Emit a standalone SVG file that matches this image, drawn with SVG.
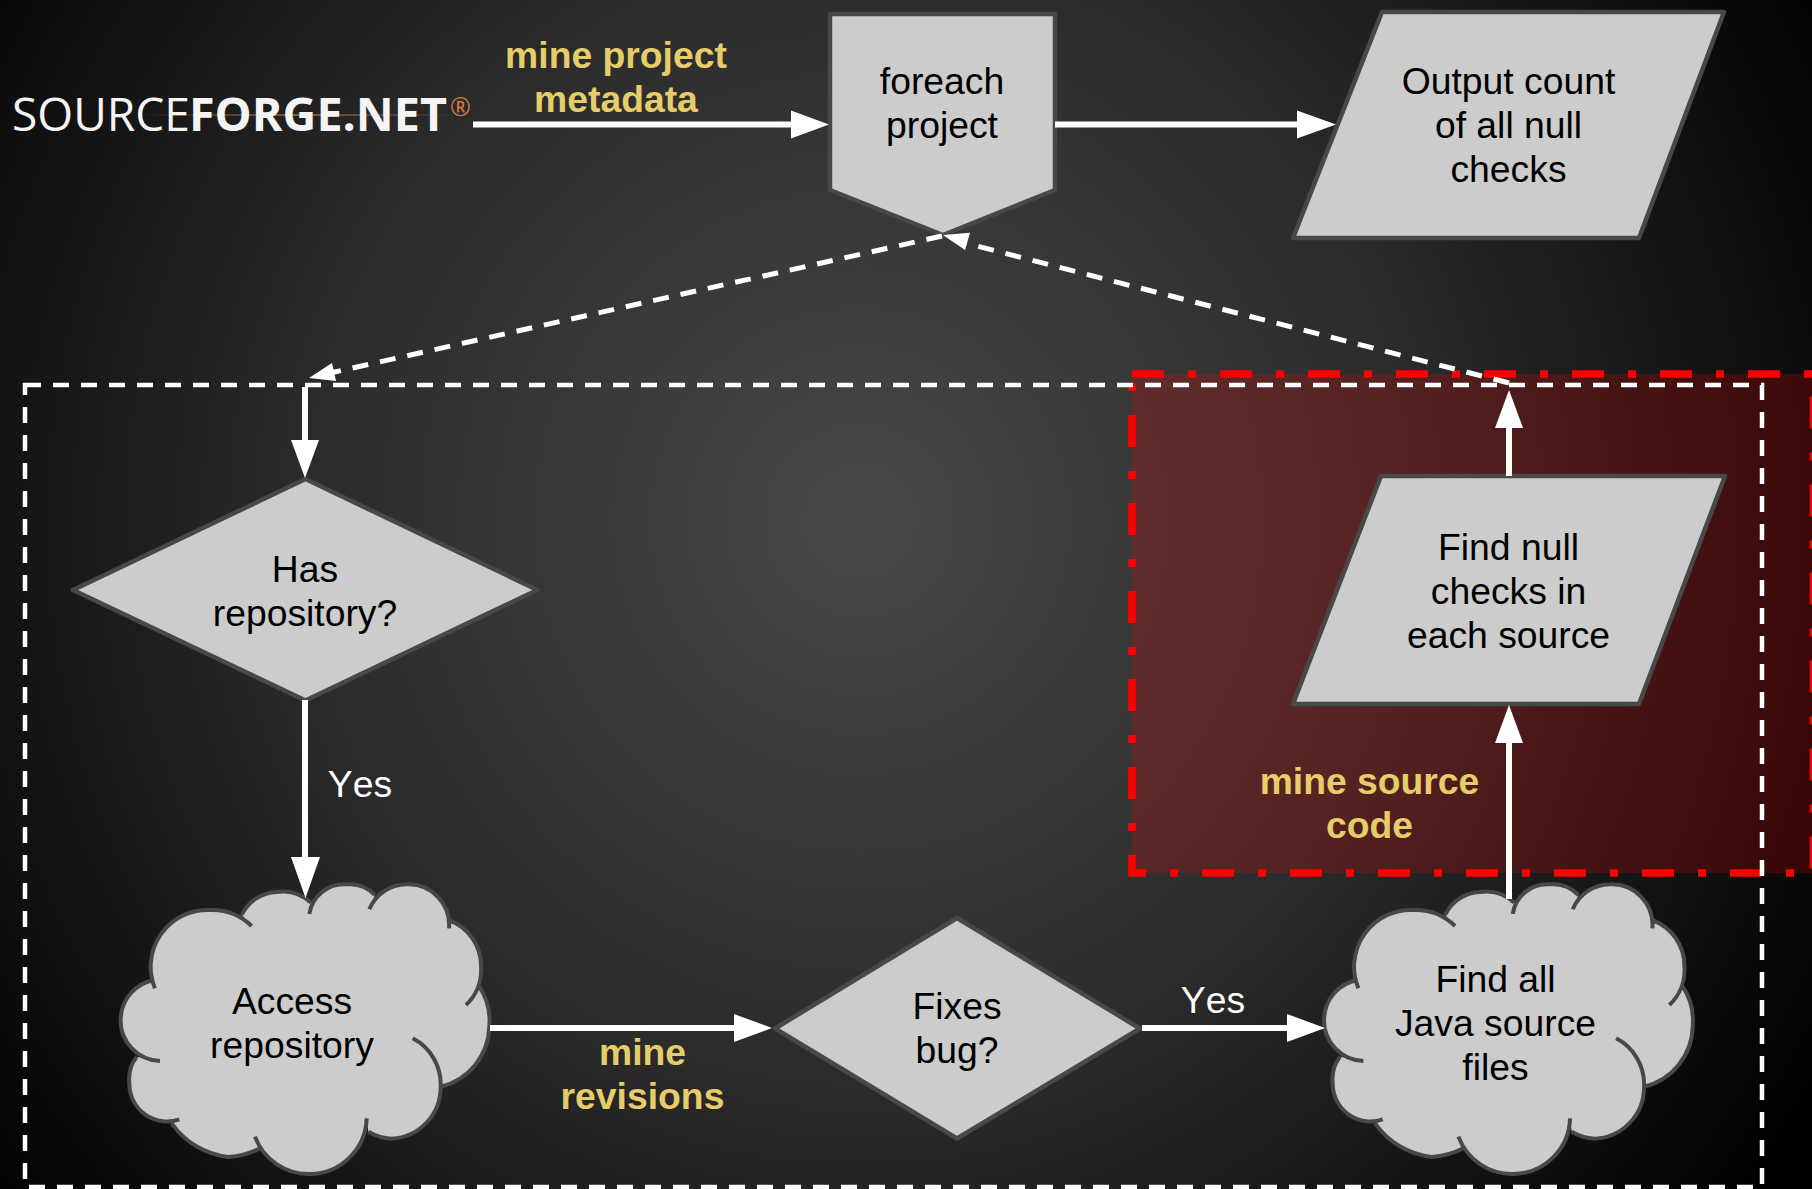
<svg xmlns="http://www.w3.org/2000/svg" width="1812" height="1189" viewBox="0 0 1812 1189">
<style>
.shape{fill:#cccccc;stroke:#484848;stroke-width:4.500;stroke-linejoin:round}
.t{font-family:"Liberation Sans",Arial,sans-serif;font-size:37.3px;text-anchor:middle;fill:#000;font-kerning:none}
.w{fill:#fff}
.y{font-weight:bold;fill:#e6cd69}
.c{fill:none;stroke:#fff;stroke-width:6}
.d{fill:none;stroke:#fff;stroke-width:5;stroke-dasharray:16 12}
.h{fill:#fff}
.cl{fill:none;stroke:#484848;stroke-width:12;stroke-linecap:butt}
</style>
<defs>
<radialGradient id="bg" gradientUnits="userSpaceOnUse" cx="0" cy="0" r="1" gradientTransform="translate(860 520) scale(1110 1130)">
<stop offset="0" stop-color="#484848"/><stop offset="0.5" stop-color="#2b2b2b"/><stop offset="1" stop-color="#000"/>
</radialGradient>
<g id="cloud">
<path fill="#cccccc" d="M165 385A170 170 0 0 1 330 150A170 170 0 0 1 455 198L425 165A120 120 0 0 1 530 96A120 120 0 0 1 632 128L628 162A105 105 0 0 1 740 73A105 105 0 0 1 825 105L808 148A122 122 0 0 1 920 73A122 122 0 0 1 1047 205L1045 180A145 145 0 0 1 1143 320A145 145 0 0 1 1098 435L1135 375A190 190 0 0 1 1168 500A190 190 0 0 1 1022 680L938 535A155 155 0 0 1 1022 680A155 155 0 0 1 875 836A155 155 0 0 1 805 815L800 775A172 172 0 0 1 630 942A172 172 0 0 1 465 830L480 865A240 240 0 0 1 385 891A240 240 0 0 1 215 790L238 778A113 113 0 0 1 88 670A113 113 0 0 1 110 590L180 603A122 122 0 0 1 62 475A122 122 0 0 1 163 360Z"/>
<path class="cl" d="M165 385A170 170 0 0 1 330 150A170 170 0 0 1 455 198M425 165A120 120 0 0 1 530 96A120 120 0 0 1 632 128M628 162A105 105 0 0 1 740 73A105 105 0 0 1 825 105M808 148A122 122 0 0 1 920 73A122 122 0 0 1 1047 205M1045 180A145 145 0 0 1 1143 320A145 145 0 0 1 1098 435M1135 375A190 190 0 0 1 1168 500A190 190 0 0 1 1022 680M938 535A155 155 0 0 1 1022 680A155 155 0 0 1 875 836A155 155 0 0 1 805 815M800 775A172 172 0 0 1 630 942A172 172 0 0 1 465 830M480 865A240 240 0 0 1 385 891A240 240 0 0 1 215 790M238 778A113 113 0 0 1 88 670A113 113 0 0 1 110 590M180 603A122 122 0 0 1 62 475A122 122 0 0 1 163 360"/>
</g>
<linearGradient id="streak"><stop offset="0" stop-color="#e08a4a" stop-opacity="0"/><stop offset=".5" stop-color="#e08a4a" stop-opacity=".55"/><stop offset="1" stop-color="#e08a4a" stop-opacity="0"/></linearGradient>
</defs>
<rect width="1812" height="1189" fill="url(#bg)"/>
<g id="source-code-region">
<rect x="1132" y="374" width="681.5" height="499" fill="#ff0000" fill-opacity="0.2" stroke="#ff0000" stroke-width="7.5" stroke-dasharray="32 24 8 24"/>
</g>
<g id="loop-region"><rect x="25" y="385" width="1737" height="802" fill="none" stroke="#fff" stroke-width="4.5" stroke-dasharray="16 12"/></g>
<g id="sourceforge">
<rect x="140" y="114" width="320" height="2" fill="url(#streak)"/>
<text x="12" y="131" font-family="Open Sans,sans-serif" font-size="46" font-weight="400" fill="#f4f4f4" textLength="178" lengthAdjust="spacingAndGlyphs">SOURCE</text>
<text x="189" y="131" font-family="Open Sans,sans-serif" font-size="46" font-weight="700" fill="#f4f4f4" textLength="258" lengthAdjust="spacingAndGlyphs">FORGE.NET</text>
<text x="450" y="115.500" font-family="Open Sans,sans-serif" font-size="25" fill="#d07a3a">®</text>
</g>
<g id="foreach"><path class="shape" d="M830 14H1055V190L943 235L830 190Z"/><text class="t"><tspan x="942" y="94">foreach</tspan><tspan x="942" y="138">project</tspan></text></g>
<g id="output"><path class="shape" d="M1382 12H1724L1639 238H1293Z"/><text class="t"><tspan x="1508.500" y="94">Output count</tspan><tspan x="1508.500" y="138">of all null</tspan><tspan x="1508.500" y="182">checks</tspan></text></g>
<g id="has-repository"><path class="shape" d="M305.500 479L537.500 590L305.500 700.500L73 590Z"/><text class="t"><tspan x="305" y="581.500">Has</tspan><tspan x="305" y="625.500">repository?</tspan></text></g>
<g id="access-repository"><use href="#cloud" transform="translate(100 860) scale(.33333)"/><text class="t"><tspan x="292" y="1014">Access</tspan><tspan x="292" y="1058">repository</tspan></text></g>
<g id="fixes-bug"><path class="shape" d="M957 918L1140 1028.500L957 1138.500L775 1028.500Z"/><text class="t"><tspan x="957" y="1019">Fixes</tspan><tspan x="957" y="1063">bug?</tspan></text></g>
<g id="find-java"><use href="#cloud" transform="translate(1303.400 860) scale(.33333)"/><text class="t"><tspan x="1495.500" y="992">Find all</tspan><tspan x="1495.500" y="1036">Java source</tspan><tspan x="1495.500" y="1080">files</tspan></text></g>
<g id="find-null"><path class="shape" d="M1381 476H1725L1639 704H1293Z"/><text class="t"><tspan x="1508.500" y="560">Find null</tspan><tspan x="1508.500" y="604">checks in</tspan><tspan x="1508.500" y="648">each source</tspan></text></g>
<g id="connectors">
<path class="c" d="M473 124.500H795"/><path class="h" d="M829 124.500L791 110.500V138.500Z"/>
<path class="c" d="M1055 124.500H1300"/><path class="h" d="M1336 124.500L1297 110.500V138.500Z"/>
<path class="d" d="M942 236L330 373"/><path class="h" d="M309 378L332 363L336 381Z"/>
<path class="d" d="M1509 383L965 243"/><path class="h" d="M943 235L970 232.700L965 250Z"/>
<path class="c" d="M305 387V445"/><path class="h" d="M305 478L291 440H319Z"/>
<path class="c" d="M305 700V860"/><path class="h" d="M305.500 898L291 857H320Z"/>
<path class="c" d="M490 1028H735"/><path class="h" d="M772 1028L734 1014V1042Z"/>
<path class="c" d="M1142 1028H1290"/><path class="h" d="M1325 1028L1287 1014V1042Z"/>
<path class="c" d="M1509 899V740"/><path class="h" d="M1509 705L1495 743H1523Z"/>
<path class="c" d="M1509 476V425"/><path class="h" d="M1509 390L1495 428H1523Z"/>
</g>
<g id="labels">
<text class="t y"><tspan x="616" y="67.500">mine project</tspan><tspan x="616" y="111.500">metadata</tspan></text>
<text class="t y"><tspan x="1369.500" y="794">mine source</tspan><tspan x="1369.500" y="838">code</tspan></text>
<text class="t y"><tspan x="642.500" y="1065">mine</tspan><tspan x="642.500" y="1109">revisions</tspan></text>
<text class="t w" x="360" y="797">Yes</text>
<text class="t w" x="1213" y="1013">Yes</text>
</g>
</svg>
